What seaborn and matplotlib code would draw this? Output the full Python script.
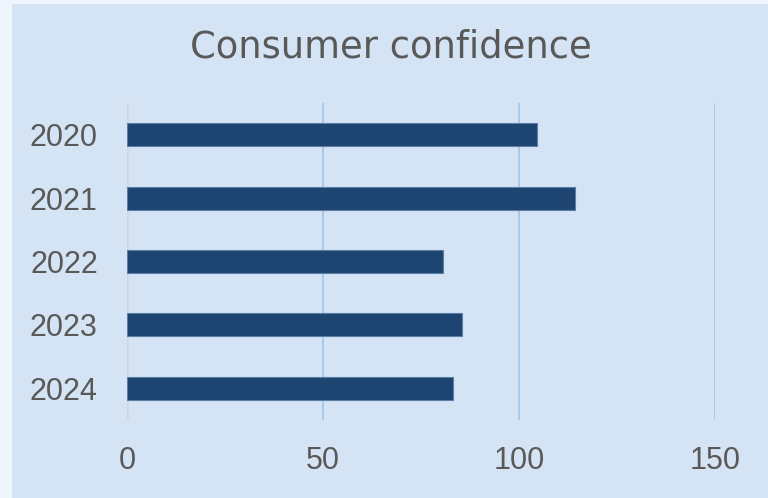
import matplotlib
matplotlib.use("Agg")
import matplotlib.pyplot as plt
import seaborn as sns
import pandas as pd
from matplotlib.patches import Rectangle

# data
years = ["2020", "2021", "2022", "2023", "2024"]
confidence = [104.6, 114.3, 80.6, 85.5, 83.2]

df = pd.DataFrame({"year": years, "confidence": confidence})

sns.set_theme(style="white")
plt.rcParams['font.family'] = ['Liberation Sans', 'DejaVu Sans']

PANEL = "#d4e4f5"
OUTER = "#eef5fc"
BAR = "#1e4471"
TXT = "#595959"

fig = plt.figure(figsize=(7.68, 4.98), dpi=100, facecolor=OUTER)
fig.patches.append(Rectangle((12 / 768, 0), 1, (498 - 4) / 498, transform=fig.transFigure,
                             facecolor=PANEL, edgecolor="none", zorder=-1))

ax = fig.add_axes([127 / 768, (498 - 420) / 498, (715 - 127) / 768, (420 - 103) / 498])
ax.set_facecolor("none")

sns.barplot(data=df, x="confidence", y="year", orient="h", color=BAR, width=0.36,
            edgecolor="#5b7ea8", linewidth=0.8, saturation=1, ax=ax, zorder=3)

ax.set_xlim(0, 150)
ax.set_ylim(4.5, -0.5)
ax.set_xticks([0, 50, 100, 150])
ax.grid(axis="x", color="#a6c8ea", linewidth=1.3, zorder=0)
ax.axvline(0, color="#d6d6d6", linewidth=1.8, zorder=1)
for s in ax.spines.values():
    s.set_visible(False)
ax.tick_params(axis="both", length=0, labelsize=22, labelcolor=TXT)
ax.tick_params(axis="x", pad=19)
ax.tick_params(axis="y", pad=21)
ax.set_xlabel("")
ax.set_ylabel("")

fig.text(391 / 768, 1 - 47 / 498, "Consumer confidence", ha="center", va="center",
         fontsize=26.6, color=TXT, family="DejaVu Sans")

fig.savefig("out.png", dpi=100, facecolor=fig.get_facecolor())
